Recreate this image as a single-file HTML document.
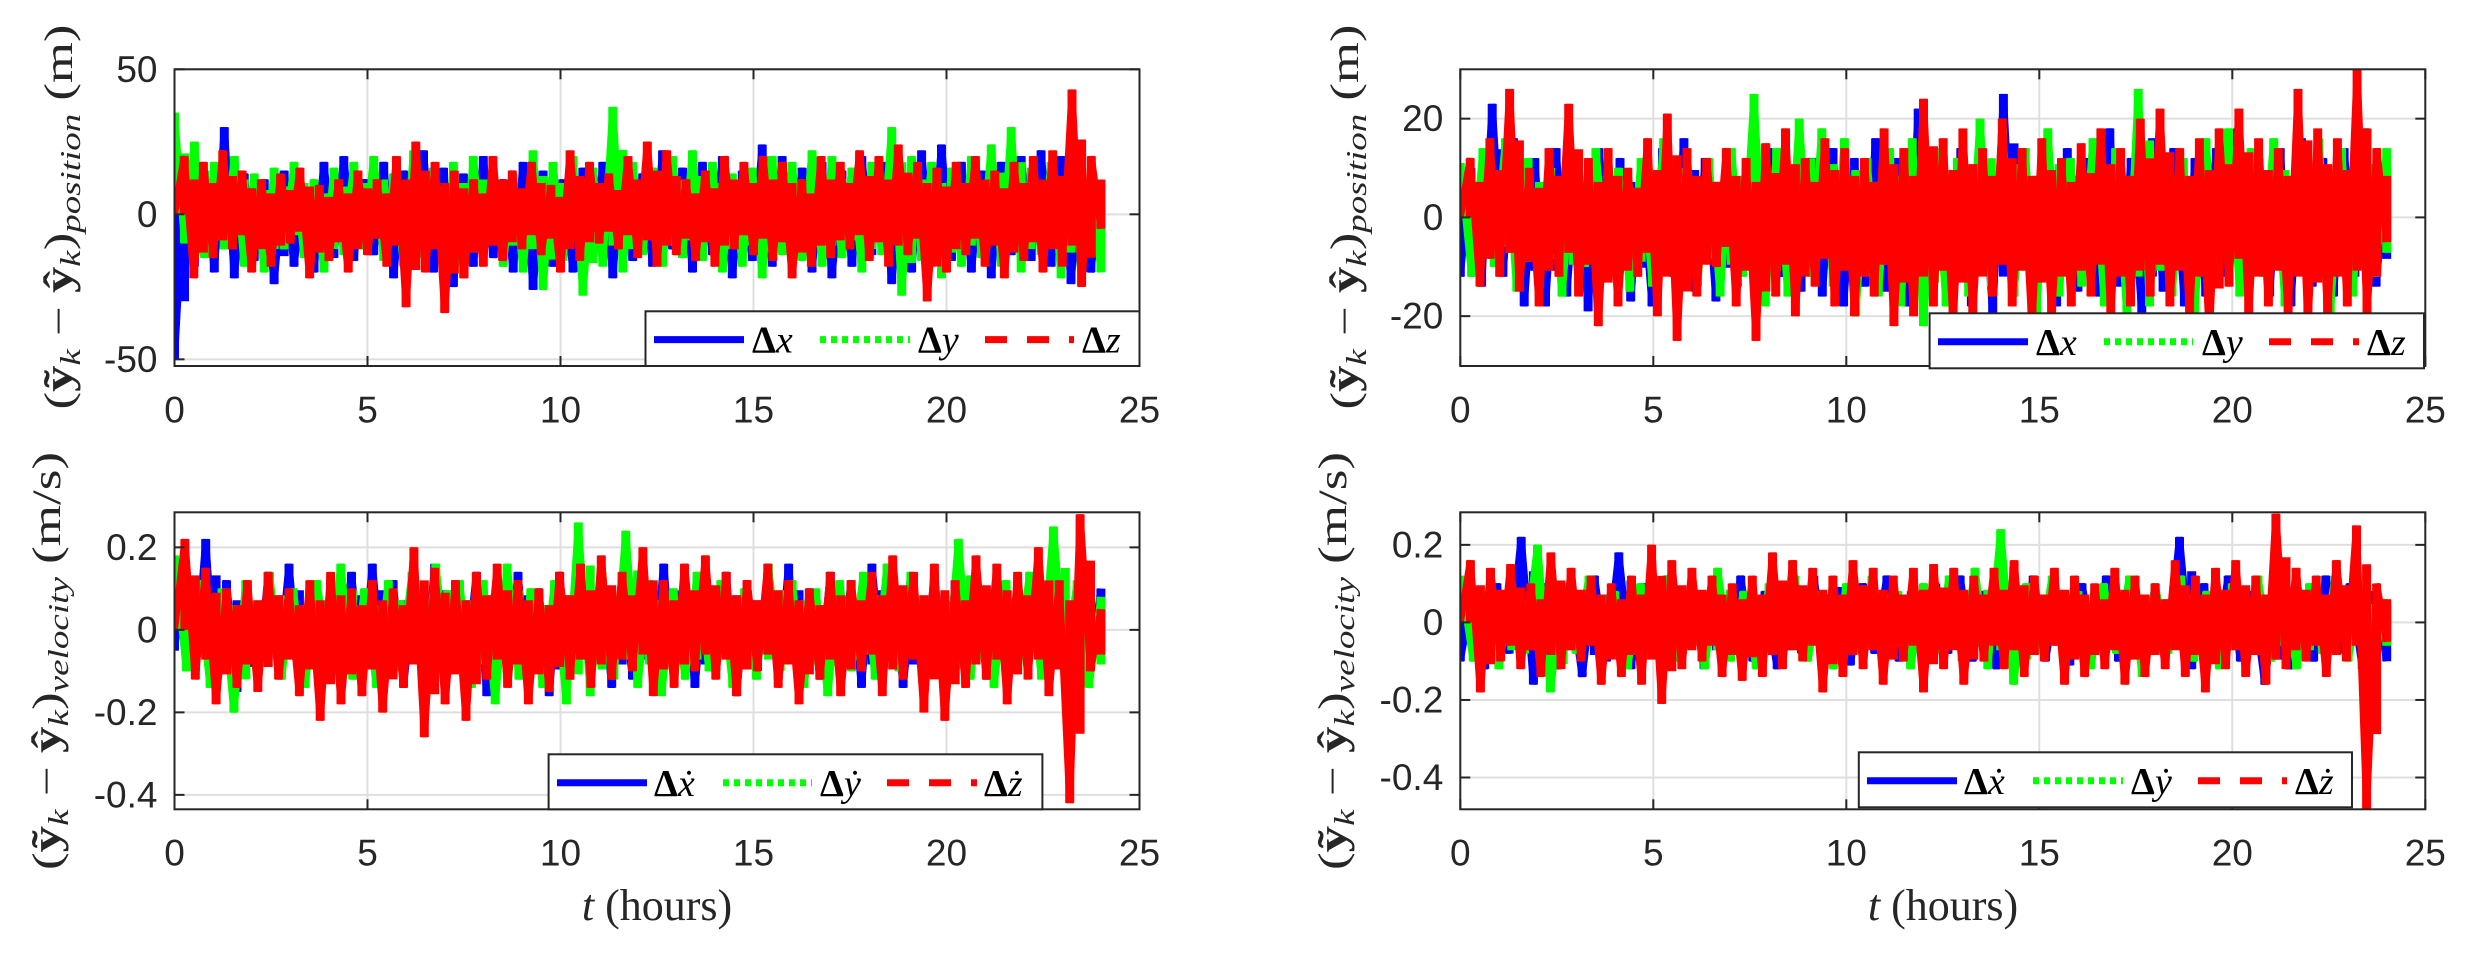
<!DOCTYPE html>
<html><head><meta charset="utf-8"><style>
html,body{margin:0;padding:0;background:#fff;}
svg{display:block;}
.tick{font-family:"Liberation Sans",sans-serif;font-size:37px;fill:#262626;}
.lab{font-family:"Liberation Serif",serif;fill:#262626;}
.leg{font-family:"Liberation Serif",serif;font-size:38px;fill:#000;}
</style></head><body>
<svg id="fig" width="2466" height="954" viewBox="0 0 2466 954" xmlns="http://www.w3.org/2000/svg">
<rect x="0" y="0" width="2466" height="954" fill="#fff"/>
<g id="root"></g>

<text class="lab" transform="translate(72,217) rotate(-90)" text-anchor="middle" font-size="40" textLength="385" lengthAdjust="spacingAndGlyphs">(<tspan font-weight="bold">ỹ</tspan><tspan font-style="italic" font-size="28" dy="8">k</tspan><tspan dy="-8"> − </tspan><tspan font-weight="bold">ŷ</tspan><tspan font-style="italic" font-size="28" dy="8">k</tspan><tspan dy="-8">)</tspan><tspan font-style="italic" font-size="28" dy="8">position</tspan><tspan dy="-8">  (m)</tspan></text>
<text class="lab" transform="translate(1358,217) rotate(-90)" text-anchor="middle" font-size="40" textLength="385" lengthAdjust="spacingAndGlyphs">(<tspan font-weight="bold">ỹ</tspan><tspan font-style="italic" font-size="28" dy="8">k</tspan><tspan dy="-8"> − </tspan><tspan font-weight="bold">ŷ</tspan><tspan font-style="italic" font-size="28" dy="8">k</tspan><tspan dy="-8">)</tspan><tspan font-style="italic" font-size="28" dy="8">position</tspan><tspan dy="-8">  (m)</tspan></text>
<text class="lab" transform="translate(60,661) rotate(-90)" text-anchor="middle" font-size="40" textLength="418" lengthAdjust="spacingAndGlyphs">(<tspan font-weight="bold">ỹ</tspan><tspan font-style="italic" font-size="28" dy="8">k</tspan><tspan dy="-8"> − </tspan><tspan font-weight="bold">ŷ</tspan><tspan font-style="italic" font-size="28" dy="8">k</tspan><tspan dy="-8">)</tspan><tspan font-style="italic" font-size="28" dy="8">velocity</tspan><tspan dy="-8">  (m/s)</tspan></text>
<text class="lab" transform="translate(1346,661) rotate(-90)" text-anchor="middle" font-size="40" textLength="418" lengthAdjust="spacingAndGlyphs">(<tspan font-weight="bold">ỹ</tspan><tspan font-style="italic" font-size="28" dy="8">k</tspan><tspan dy="-8"> − </tspan><tspan font-weight="bold">ŷ</tspan><tspan font-style="italic" font-size="28" dy="8">k</tspan><tspan dy="-8">)</tspan><tspan font-style="italic" font-size="28" dy="8">velocity</tspan><tspan dy="-8">  (m/s)</tspan></text>
<text class="lab" x="657" y="920" text-anchor="middle" font-size="44"><tspan font-style="italic">t</tspan> (hours)</text>
<text class="lab" x="1943" y="920" text-anchor="middle" font-size="44"><tspan font-style="italic">t</tspan> (hours)</text>
</svg>
<script>
const tMax = 24;
const xTicks = [0, 5, 10, 15, 20, 25];

const posLeftX = [-50,12,-18,15,-20,30,-22,14,-16,12,-24,15,-18,10,-20,18,-15,20,-16,12,-14,18,-22,15,-12,22,-20,16,-25,14,-18,20,-15,12,-20,18,-26,15,-18,12,-20,16,-14,18,-22,20,-16,14,-18,22,-12,16,-20,18,-14,20,-22,15,-16,24,-18,20,-14,16,-20,18,-22,15,-18,20,-14,18,-24,16,-20,22,-18,24,-16,18,-20,15,-22,18,-14,20,-16,22,-18,20,-24,16,-20,10];
const posLeftY = [35,-10,25,-15,18,-12,20,-18,14,-20,16,-12,18,-15,12,-20,16,-14,18,-12,20,-16,14,-18,22,-15,16,-20,18,-22,20,-14,16,-18,14,-20,22,-26,18,-16,20,-28,16,-18,37,-20,18,-14,16,-18,20,-15,22,-16,18,-20,14,-18,16,-22,20,-14,18,-16,22,-18,20,-15,16,-20,18,-14,30,-28,20,-16,18,-22,16,-18,20,-15,24,-18,30,-20,16,-14,18,-22,20,-18,14,-20];
const posLeftZ = [0,20,-22,18,-15,22,-12,15,-20,12,-18,14,-10,16,-22,10,-16,12,-20,15,-14,12,-18,20,-32,25,-20,18,-34,15,-22,12,-18,20,-16,15,-12,18,-14,10,-20,22,-16,18,-10,14,-12,20,-15,25,-18,22,-14,12,-16,15,-18,20,-12,18,-14,20,-16,18,-22,12,-18,20,-15,18,-12,22,-16,20,-18,24,-14,18,-30,16,-20,18,-14,20,-18,15,-22,18,-16,20,-20,22,-18,43,-25,20,-5];

const posRightX = [-12,10,-14,23,-12,16,-18,12,-18,14,-16,13,-19,14,-10,12,-17,10,-18,14,-12,16,-15,12,-17,10,-14,12,-16,14,-12,10,-15,12,-16,14,-18,12,-14,16,-15,12,-18,22,-14,12,-16,14,-18,12,-20,25,-16,14,-12,16,-18,14,-15,12,-16,18,-14,12,-20,16,-15,14,-18,12,-16,14,-12,18,-14,12,-16,14,-18,16,-14,12,-16,14,-12,18,-14,10];
const posRightY = [11,-12,14,-10,16,-15,12,-14,10,-16,12,-10,14,-12,10,-15,12,-14,16,-12,10,-14,12,-16,14,-12,25,-18,14,-16,20,-12,18,-14,16,-20,12,-16,14,-18,16,-22,14,-18,12,-16,20,-14,18,-16,14,-20,18,-16,12,-14,16,-18,14,-20,26,-18,14,-16,12,-20,16,-14,18,-16,14,-12,16,-18,12,-14,16,-20,14,-16,18,-12,14];
const posRightZ = [0,12,-14,16,-12,26,-15,10,-18,14,-12,23,-16,12,-22,14,-18,10,-12,16,-20,21,-25,14,-16,12,-10,14,-18,12,-25,15,-16,18,-20,12,-14,16,-18,14,-20,12,-16,18,-22,14,-20,24,-18,16,-22,18,-20,14,-16,20,-18,14,-22,16,-20,12,-18,15,-16,18,-20,14,-18,20,-16,22,-18,14,-20,16,-24,18,-14,22,-20,16,-18,14,-20,26,-22,18,-20,16,-18,30,-20,14,-5];

const velLeftX = [-.05,.18,-.10,.22,-.14,.12,-.15,.10,-.12,.14,-.10,.16,-.12,.10,-.14,.12,-.10,.14,-.12,.16,-.10,.12,-.14,.10,-.12,.16,-.14,.12,-.10,.14,-.16,.12,-.10,.14,-.12,.10,-.16,.14,-.12,.16,-.10,.12,-.14,.10,-.12,.14,-.10,.16,-.12,.10,-.14,.12,-.10,.14,-.16,.12,-.10,.14,-.12,.16,-.14,.10,-.12,.14,-.10,.12,-.14,.16,-.10,.12,-.14,.10,-.12,.14,-.16,.12,-.10,.14,-.12,.10,-.14,.12,-.10,.14,-.12,.10,-.10,.12,-.08,.10];
const velLeftY = [.18,-.10,.12,-.14,.10,-.20,.12,-.10,.14,-.12,.10,-.14,.12,-.10,.16,-.12,.10,-.14,.12,-.10,.14,-.12,.16,-.10,.12,-.14,.12,-.18,.16,-.12,.10,-.14,.12,-.18,.26,-.16,.14,-.12,.24,-.14,.12,-.16,.10,-.12,.14,-.10,.12,-.14,.10,-.12,.16,-.10,.12,-.14,.10,-.16,.12,-.10,.14,-.12,.16,-.10,.14,-.12,.10,-.14,.22,-.12,.10,-.14,.12,-.10,.14,-.12,.25,-.10,.12,-.14,.08];
const velLeftZ = [0,.22,-.12,.15,-.18,.10,-.14,.12,-.15,.14,-.12,.10,-.16,.12,-.22,.14,-.18,.10,-.16,.12,-.20,.10,-.14,.20,-.26,.15,-.18,.12,-.22,.14,-.12,.16,-.14,.12,-.18,.10,-.15,.14,-.12,.16,-.14,.18,-.12,.14,-.10,.20,-.16,.12,-.14,.16,-.10,.18,-.12,.14,-.16,.12,-.10,.16,-.14,.12,-.18,.10,-.12,.14,-.16,.12,-.10,.14,-.16,.18,-.12,.14,-.20,.16,-.22,.12,-.14,.18,-.12,.16,-.18,.14,-.12,.20,-.16,.12,-.42,.28,-.10,.05];

const velRightX = [-.10,.08,-.12,.10,-.08,.22,-.16,.10,-.12,.08,-.14,.12,-.10,.18,-.12,.10,-.08,.12,-.10,.08,-.12,.10,-.08,.12,-.10,.08,-.12,.10,-.08,.12,-.10,.09,-.11,.10,-.08,.12,-.10,.08,-.12,.10,-.08,.12,-.10,.08,-.12,.10,-.08,.12,-.10,.08,-.11,.10,-.08,.12,-.10,.08,-.12,.10,-.08,.22,-.12,.10,-.08,.12,-.10,.08,-.16,.10,-.12,.08,-.10,.12,-.08,.10,-.12,.08,-.10];
const velRightY = [.12,-.10,.08,-.12,.10,-.08,.20,-.18,.10,-.08,.12,-.10,.08,-.12,.10,-.08,.12,-.10,.08,-.12,.14,-.10,.08,-.12,.10,-.08,.12,-.10,.08,-.12,.10,-.08,.12,-.10,.08,-.12,.10,-.08,.12,-.10,.14,-.12,.24,-.16,.10,-.08,.12,-.10,.08,-.12,.10,-.08,.12,-.14,.10,-.08,.12,-.10,.08,-.12,.10,-.08,.12,-.10,.08,-.12,.10,-.08,.12,-.10,.08,-.10,.06];
const velRightZ = [0,.16,-.18,.14,-.10,.15,-.12,.10,-.14,.18,-.12,.14,-.10,.12,-.16,.10,-.14,.12,-.16,.20,-.21,.16,-.12,.14,-.10,.12,-.14,.10,-.15,.12,-.14,.18,-.12,.16,-.10,.14,-.18,.12,-.14,.16,-.12,.14,-.16,.12,-.10,.14,-.18,.15,-.12,.14,-.16,.12,-.10,.14,-.12,.16,-.14,.12,-.10,.14,-.16,.12,-.14,.10,-.12,.14,-.16,.12,-.14,.10,-.12,.16,-.14,.12,-.18,.14,-.12,.16,-.14,.12,-.16,.28,-.12,.14,-.10,.12,-.14,.16,-.10,.25,-.48,.10,-.05];

const posLeftYTicks = [-50, 0, 50];
const posRightYTicks = [-20, 0, 20];
const velYTicks = [-0.4, -0.2, 0, 0.2];

const NS = 'http://www.w3.org/2000/svg';
const root = document.getElementById('root');
function mk(tag, attrs, parent) {
  const e = document.createElementNS(NS, tag);
  for (const k in attrs) e.setAttribute(k, attrs[k]);
  (parent || root).appendChild(e);
  return e;
}

function panel(name, box, ylim, yTicks, series, legend, xLabY) {
  const g = mk('g', {});
  
  
  const sx = t => box.x0 + t / 25 * (box.x1 - box.x0);
  const sy = v => box.y1 - (v - ylim[0]) / (ylim[1] - ylim[0]) * (box.y1 - box.y0);
  const clipId = 'clip-' + name;
  const cp = mk('clipPath', {id: clipId}, g);
  mk('rect', {x: box.x0, y: box.y0, width: box.x1 - box.x0, height: box.y1 - box.y0}, cp);
  xTicks.forEach(t => {
    if (t > 0 && t < 25) {
      const l = mk('line', {x1: sx(t), x2: sx(t), y1: box.y0, y2: box.y1, stroke: '#dfdfdf', 'stroke-width': 2}, g);
      
      
    }
  });
  yTicks.forEach(v => {
    const l = mk('line', {x1: box.x0, x2: box.x1, y1: sy(v), y2: sy(v), stroke: '#dfdfdf', 'stroke-width': 2}, g);
    
    
  });
  const dg = mk('g', {'clip-path': 'url(#' + clipId + ')'}, g);
  series.forEach(s => {
    const n = s.values.length;
    const sg = mk('g', {}, dg);
    
    
    let d = '';
    s.values.forEach((v, i) => {
      const x = sx(i * tMax / (n - 1)).toFixed(1);
      const prev = i > 0 ? s.values[i - 1] : 0;
      const lo = Math.min(0, v, prev * 0.6), hi = Math.max(0, v, prev * 0.6);
      d += 'M' + x + ',' + sy(hi).toFixed(1) + 'V' + sy(lo).toFixed(1);
    });
    const st = mk('path', {d: d, fill: 'none', stroke: s.color, 'stroke-width': 9}, sg);
    
    
    const pts = s.values.map((v, i) => sx(i * tMax / (n - 1)).toFixed(1) + ',' + sy(v).toFixed(1)).join(' ');
    const pl = mk('polyline', {points: pts, fill: 'none', stroke: s.color, 'stroke-width': 7, 'stroke-linejoin': 'miter', 'stroke-miterlimit': 3}, sg);
    
    
  });
  const bx = mk('rect', {x: box.x0, y: box.y0, width: box.x1 - box.x0, height: box.y1 - box.y0, fill: 'none', stroke: '#262626', 'stroke-width': 2}, g);
  
  
  xTicks.forEach(t => {
    mk('line', {x1: sx(t), x2: sx(t), y1: box.y1, y2: box.y1 - 10, stroke: '#262626', 'stroke-width': 2}, g);
    mk('line', {x1: sx(t), x2: sx(t), y1: box.y0, y2: box.y0 + 10, stroke: '#262626', 'stroke-width': 2}, g);
    const tx = mk('text', {x: sx(t), y: xLabY, 'text-anchor': 'middle', 'dominant-baseline': 'central', class: 'tick'}, g);
    tx.textContent = String(t);
    
    
  });
  yTicks.forEach(v => {
    mk('line', {x1: box.x0, x2: box.x0 + 10, y1: sy(v), y2: sy(v), stroke: '#262626', 'stroke-width': 2}, g);
    mk('line', {x1: box.x1, x2: box.x1 - 10, y1: sy(v), y2: sy(v), stroke: '#262626', 'stroke-width': 2}, g);
    const tx = mk('text', {x: box.x0 - 17, y: sy(v), 'text-anchor': 'end', 'dominant-baseline': 'central', class: 'tick'}, g);
    tx.textContent = String(v);
    
    
  });
  const lg = mk('g', {}, g);
  
  
  mk('rect', {x: legend.x0, y: legend.y0, width: legend.x1 - legend.x0, height: legend.y1 - legend.y0, fill: '#fff', stroke: '#262626', 'stroke-width': 2}, lg);
  const ly = (legend.y0 + legend.y1) / 2 + 1;
  legend.items.forEach((it, k) => {
    const ent = mk('g', {}, lg);
    
    
    const attrs = {x1: it.a, x2: it.b, y1: ly, y2: ly, stroke: series[k].color, 'stroke-width': 7};
    if (it.dash) attrs['stroke-dasharray'] = it.dash;
    mk('line', attrs, ent);
    const tx = mk('text', {x: it.tx, y: ly + 13, class: 'leg'}, ent);
    tx.innerHTML = '<tspan font-weight="bold">Δ</tspan><tspan font-style="italic">' + it.label + '</tspan>';
  });
}

const ser = (a, b, c, n) => [
  {name: n + '-x', color: '#0000ff', values: a},
  {name: n + '-y', color: '#00ff00', values: b},
  {name: n + '-z', color: '#ff0000', values: c}
];

panel('position-left-axes', {x0: 174.5, x1: 1139.5, y0: 69.3, y1: 366}, [-52.3, 50], posLeftYTicks,
  ser(posLeftX, posLeftY, posLeftZ, 'position-left'),
  {x0: 645.5, x1: 1139.5, y0: 311.3, y1: 366, items: [
    {a: 654, b: 744, tx: 752, label: 'x'},
    {a: 820, b: 910, tx: 918, label: 'y', dash: '6,5'},
    {a: 985, b: 1074, tx: 1082, label: 'z', dash: '22,20'}]}, 410);

panel('position-right-axes', {x0: 1460.3, x1: 2425.3, y0: 69.3, y1: 366}, [-30.1, 30], posRightYTicks,
  ser(posRightX, posRightY, posRightZ, 'position-right'),
  {x0: 1929.6, x1: 2424, y0: 313.3, y1: 368.3, items: [
    {a: 1938, b: 2028, tx: 2036, label: 'x'},
    {a: 2104, b: 2193, tx: 2202, label: 'y', dash: '6,5'},
    {a: 2269, b: 2359, tx: 2367, label: 'z', dash: '22,20'}]}, 410);

panel('velocity-left-axes', {x0: 174.5, x1: 1139.5, y0: 512.3, y1: 809.3}, [-0.435, 0.285], velYTicks,
  ser(velLeftX, velLeftY, velLeftZ, 'velocity-left'),
  {x0: 548.6, x1: 1042.4, y0: 754.3, y1: 809.3, items: [
    {a: 557, b: 647, tx: 654, label: 'ẋ'},
    {a: 723, b: 812, tx: 820, label: 'ẏ', dash: '6,5'},
    {a: 887, b: 977, tx: 984, label: 'ż', dash: '22,20'}]}, 853);

panel('velocity-right-axes', {x0: 1460.3, x1: 2425.3, y0: 512.3, y1: 809.3}, [-0.482, 0.284], velYTicks,
  ser(velRightX, velRightY, velRightZ, 'velocity-right'),
  {x0: 1858.8, x1: 2352, y0: 752.3, y1: 807.3, items: [
    {a: 1867, b: 1957, tx: 1964, label: 'ẋ'},
    {a: 2033, b: 2123, tx: 2131, label: 'ẏ', dash: '6,5'},
    {a: 2198, b: 2287, tx: 2295, label: 'ż', dash: '22,20'}]}, 853);
</script>
</body></html>
